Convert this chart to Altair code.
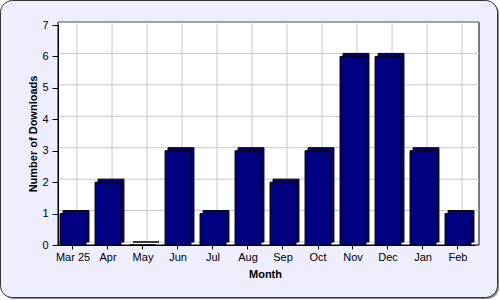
import altair as alt
import pandas as pd

months = ["Mar 25", "Apr", "May", "Jun", "Jul", "Aug", "Sep", "Oct", "Nov", "Dec", "Jan", "Feb"]
downloads = [1, 2, 0, 3, 1, 3, 2, 3, 6, 6, 3, 1]
y_ticks = [0, 1, 2, 3, 4, 5, 6, 7]

df = pd.DataFrame({"Month": months, "Downloads": downloads})
ticks_df = pd.DataFrame({"v": y_ticks})

FONT = "Liberation Sans"
W, H = 421, 223
NAVY = "#000080"

xscale = alt.Scale(domain=months, range=[-2.5, 417.5], paddingInner=0.26, paddingOuter=0.13)
yscale = alt.Scale(domain=[0, 7], range=[223, 3], nice=False, zero=True)

xaxis = alt.Axis(title="Month", labelAngle=0, labelFont=FONT, labelFontSize=11,
                 labelColor="black", tickColor="black", domainColor="black",
                 tickSize=4, labelPadding=2, grid=False, zindex=2,
                 titleFont=FONT, titleFontSize=11, titleFontWeight="bold",
                 titleColor="black", titleX=207, titleY=32,
                 titleBaseline="alphabetic")
yaxis = alt.Axis(title="Number of Downloads", values=y_ticks, labelFont=FONT,
                 labelFontSize=11, labelColor="black", tickColor="black",
                 domainColor="black", tickSize=6, labelPadding=4, grid=False,
                 zindex=2, titleFont=FONT, titleFontSize=11,
                 titleFontWeight="bold", titleColor="black", titleAngle=-90,
                 titleX=-22, titleY=111.5, titleAlign="center",
                 titleBaseline="alphabetic")

one = pd.DataFrame({"a": [0]})

shadow = alt.Chart(one).mark_rect(cornerRadius=12, fill="#8a8a8a").encode(
    x=alt.value(-56), x2=alt.value(441), y=alt.value(-20), y2=alt.value(277)
)
frame = alt.Chart(one).mark_rect(cornerRadius=12, fill="#EEEEFF", stroke="#333333", strokeWidth=1).encode(
    x=alt.value(-57.5), x2=alt.value(439.5), y=alt.value(-21.5), y2=alt.value(275.5)
)
plot_bg = alt.Chart(one).mark_rect(fill="white", stroke="black", strokeWidth=1).encode(
    x=alt.value(0), x2=alt.value(W), y=alt.value(0), y2=alt.value(H)
)

vgrid = alt.Chart(df).mark_rule(color="#c8c8c8", strokeWidth=1, xOffset=4).encode(
    x=alt.X("Month:N", scale=xscale, sort=months, axis=xaxis),
    y=alt.value(0), y2=alt.value(220)
)
hgrid = alt.Chart(ticks_df).mark_rule(color="#c8c8c8", strokeWidth=1, yOffset=-3).encode(
    y=alt.Y("v:Q", scale=yscale, axis=yaxis),
    x=alt.value(0), x2=alt.value(W)
)

back = alt.Chart(df).mark_bar(fill=NAVY, stroke="black", strokeWidth=1, xOffset=3, yOffset=-3).encode(
    x=alt.X("Month:N", scale=xscale, sort=months, axis=xaxis),
    y=alt.Y("Downloads:Q", scale=yscale, axis=yaxis)
)

front = alt.Chart(df).mark_bar(fill=NAVY, stroke="black", strokeWidth=1).encode(
    x=alt.X("Month:N", scale=xscale, sort=months, axis=xaxis),
    y=alt.Y("Downloads:Q", scale=yscale, axis=yaxis)
)

chart = alt.layer(shadow, frame, plot_bg, vgrid, hgrid, back, front).properties(
    width=W, height=H,
    autosize=alt.AutoSizeParams(type="none"),
    padding={"left": 58, "top": 22, "right": 21, "bottom": 55},
    background="white"
).configure_view(stroke=None, fill=None)

chart.save("out.html", embed_options={"renderer": "svg", "actions": False})
